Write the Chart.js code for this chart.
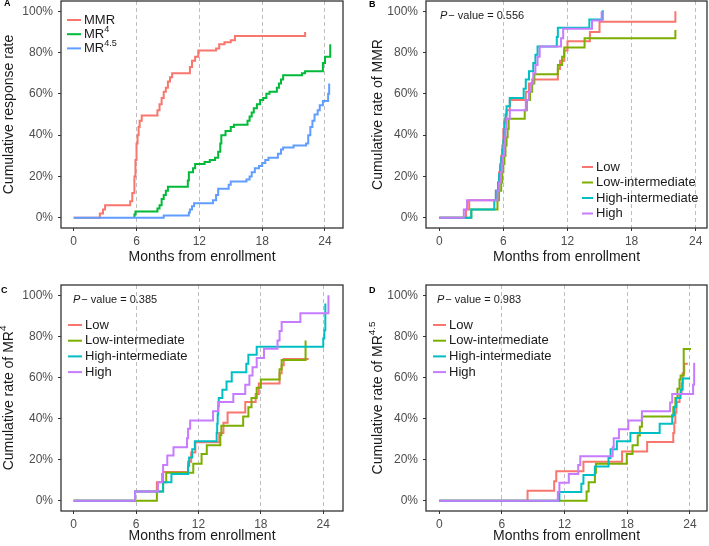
<!DOCTYPE html>
<html>
<head>
<meta charset="utf-8">
<script src="https://cdn.jsdelivr.net/npm/chart.js@4"></script>
<style>
  html, body { margin: 0; padding: 0; background: #fff; }
  #wrap { position: relative; width: 709px; height: 546px; overflow: hidden; }
  canvas { position: absolute; }
</style>
</head>
<body>
<div id="wrap">
  <canvas id="panelA" width="354" height="273" style="left:0;top:0"></canvas>
  <canvas id="panelB" width="355" height="273" style="left:354px;top:0"></canvas>
  <canvas id="panelC" width="354" height="273" style="left:0;top:273px"></canvas>
  <canvas id="panelD" width="355" height="273" style="left:354px;top:273px"></canvas>
</div>
<script>
const monthTicks = [0, 6, 12, 18, 24];
const pctTicks = [0, 20, 40, 60, 80, 100];
const responseColors = ['#F8766D', '#00BA38', '#619CFF'];
const groupNames = ['Low', 'Low-intermediate', 'High-intermediate', 'High'];
const groupColors = ['#F8766D', '#7CAE00', '#00BFC4', '#C77CFF'];
const pValues = ['0.556', '0.385', '0.983'];

// [month, cumulative %] step points
// A: overall response
const aMMR = [[0,0],[2.5,2],[2.8,4],[3.0,6],[5.4,8],[5.6,12],[5.8,20],[5.9,28],[6.0,36],[6.1,40],[6.2,44],[6.3,47],[6.5,49.5],[8.0,52],[8.2,55],[8.4,58],[8.6,61],[8.8,63],[9.0,66],[9.2,68],[9.4,70],[11.1,73],[11.3,76],[11.6,78],[11.9,81],[13.6,82],[13.9,84],[14.4,85],[15.0,86],[15.4,88],[22.1,89.5],[22.2,89.5]];
const aMR4 = [[5.8,0],[5.8,1.5],[5.9,3],[8.0,4.5],[8.2,6],[8.4,9],[8.6,11],[8.8,13],[9.0,15],[10.9,18],[11.0,22],[11.4,24],[11.6,26],[12.5,27],[13.0,28],[13.5,29],[13.8,32],[14.0,36],[14.1,40],[14.5,42],[15.0,44],[15.3,45],[16.6,47],[16.8,49],[17.0,51],[17.2,53],[17.5,55],[17.8,57],[18.1,58],[18.4,60],[18.7,61],[19.4,63],[19.6,65],[19.8,67],[20.0,69],[21.8,70],[22.1,71],[23.8,75],[24.0,78],[24.5,84],[24.5,84]];
const aMR45 = [[0,0],[8.6,1],[11.0,2.5],[11.1,4],[11.3,5.5],[11.5,7],[13.3,8.5],[13.6,11],[13.8,14],[14.8,16],[15.0,17.5],[16.5,18.5],[16.8,20],[17.0,22],[17.3,24],[17.7,25],[18.0,26.5],[18.3,28],[18.6,29],[19.5,31],[19.8,33],[20.0,34],[21.0,35],[22.2,36],[22.4,40],[22.6,44],[22.8,47],[23.0,50],[23.3,52],[23.5,54.5],[23.8,56.5],[24.3,60],[24.4,65],[24.4,65]];

// B: MMR by group
const bLow = [[0,0],[2.5,4],[2.8,8.5],[5.3,13],[5.5,17],[5.6,22],[5.7,26],[5.8,30],[5.9,35],[6.0,43],[6.1,48],[6.3,52],[6.6,57],[8.1,61],[8.4,65],[8.7,67],[11.1,72],[11.3,76],[11.7,81],[12.0,85.5],[14.1,90],[15.0,95],[22.1,100],[22.1,100]];
const bLowInt = [[0,0],[3.0,4],[5.45,8.5],[5.6,13],[5.8,17],[5.9,22],[6.0,26],[6.1,30],[6.2,35],[6.3,39],[6.4,43],[6.5,48],[8.0,52],[8.2,57],[8.5,61],[8.7,65],[8.9,69.5],[11.1,74],[11.5,78],[11.7,82.5],[13.6,87],[22.1,91],[22.1,91]];
const bHighInt = [[0,0],[3.0,4],[5.15,8.5],[5.3,13],[5.5,17],[5.6,21],[5.7,25],[5.8,29],[5.9,33],[6.0,37.5],[6.05,42],[6.1,46],[6.2,50],[6.3,54],[6.6,58],[7.9,62.5],[8.1,67],[8.4,71],[8.8,75],[9.0,79],[9.2,83],[11.0,87.5],[11.1,92],[14.05,96],[15.3,100],[15.4,100]];
const bHigh = [[0,0],[2.3,4],[2.6,8.5],[5.45,13],[5.6,17],[5.75,22],[5.85,26],[5.95,30],[6.05,35],[6.15,39],[6.2,43],[6.3,48],[6.6,52],[8.1,57],[8.4,61],[8.6,65],[8.8,70],[9.0,74],[9.2,78],[9.4,83],[11.4,87],[11.6,91.5],[14.3,95.6],[15.2,100],[15.2,100]];

// C: MR4 by group
const cLow = [[0,0],[5.9,4.5],[8.0,9],[8.6,14],[11.0,19],[11.3,23.5],[11.7,28.5],[14.0,33],[14.4,38],[14.8,43],[16.5,48],[17.5,52],[17.8,57],[19.8,62],[20.0,66],[20.2,69],[22.6,69]];
const cLowInt = [[0,0],[8.0,4.5],[8.6,9],[8.9,13.6],[11.5,18],[12.3,22.7],[12.8,27],[14.1,32],[14.2,36.5],[16.3,41],[16.8,45.5],[17.1,50],[17.6,55],[18.0,59],[19.8,64],[20.0,68.5],[22.3,78],[22.3,78]];
const cHighInt = [[0,0],[5.9,4.5],[8.6,9],[9.4,13],[11.0,17],[11.1,21],[11.4,25],[11.65,29],[13.75,33],[13.8,37.5],[13.85,42],[13.9,46],[13.95,50],[14.3,54],[14.7,58],[15.2,62.5],[16.6,66.7],[16.8,71],[17.6,75],[24.0,79],[24.1,83],[24.2,96],[24.2,96]];
const cHigh = [[0,0],[5.9,4.5],[8.1,9],[8.5,13],[8.6,17.4],[9.0,22],[9.6,26],[10.9,30.4],[11.0,35],[11.2,39],[13.4,43.5],[13.9,48],[15.35,52],[16.5,56.5],[16.9,61],[17.2,65],[17.6,69.5],[18.3,74],[19.6,78],[19.8,82.6],[20.0,87],[21.8,91.3],[24.5,100],[24.5,100]];

// D: MR4.5 by group
const dLow = [[0,0],[8.45,4.8],[11.0,9.5],[11.2,14.3],[13.8,19],[17.5,24],[19.9,28.6],[22.4,33],[22.5,38],[22.6,43],[22.7,48],[23.0,52],[23.2,57],[23.3,62],[23.45,66.7],[23.8,66.7]];
const dLowInt = [[0,0],[14.1,4.5],[14.3,9],[14.9,13.6],[15.0,18],[17.95,22.7],[18.5,27],[19.0,31.8],[19.2,36],[19.4,41],[22.4,45.5],[22.6,50],[22.8,54.5],[23.0,59],[23.1,61],[23.4,73.8],[24.1,73.8]];
const dHighInt = [[0,0],[11.5,4.2],[13.6,8.3],[13.8,12.5],[14.9,16.7],[16.2,20.8],[16.4,25],[17.0,29],[18.3,33],[21.1,37.5],[22.3,41.7],[22.5,45.8],[22.7,50],[23.1,54],[23.3,59.5],[24.0,59.5]];
const dHigh = [[0,0],[11.35,4.3],[11.5,8.7],[12.4,13],[13.3,17.4],[13.5,21.7],[16.6,26],[16.7,30.4],[17.2,34.8],[18.1,39],[19.4,43.5],[22.1,47.8],[22.3,52],[24.3,56.5],[24.4,66.7],[24.5,66.7]];

const FONT = '"Liberation Sans", Arial, Helvetica, sans-serif';
Chart.defaults.font.family = FONT;

function fontStr(size, style) {
  return (style || '') + ' ' + size + 'px ' + FONT;
}

// draws text pieces, superscripts where the flag is set
function drawRich(ctx, parts, x, y, size, align) {
  const widths = parts.map(p => {
    ctx.font = fontStr(p[1] ? size * 0.7 : size);
    return ctx.measureText(p[0]).width;
  });
  const total = widths.reduce((a, b) => a + b, 0);
  let cx = align === 'center' ? x - total / 2 : x;
  parts.forEach((p, i) => {
    ctx.font = fontStr(p[1] ? size * 0.7 : size);
    ctx.fillText(p[0], cx, p[1] ? y - size * 0.4 : y);
    cx += widths[i];
  });
}

const panelDecor = {
  id: 'panelDecor',
  afterDatasetsDraw(chart, args, o) {
    const ctx = chart.ctx;
    const a = chart.chartArea;
    ctx.save();
    // panel box
    ctx.strokeStyle = '#333';
    ctx.lineWidth = 1.3;
    ctx.strokeRect(a.left, a.top, a.right - a.left, a.bottom - a.top);

    ctx.fillStyle = '#1a1a1a';
    ctx.textBaseline = 'middle';
    // y title
    ctx.save();
    ctx.translate(o.yTitleX, (a.top + a.bottom) / 2);
    ctx.rotate(-Math.PI / 2);
    drawRich(ctx, o.yTitle, 0, 0, 14, 'center');
    ctx.restore();

    // panel letter
    ctx.textBaseline = 'alphabetic';
    ctx.font = fontStr(9, 'bold');
    ctx.fillStyle = '#000';
    ctx.fillText(o.letter, o.letterX, o.letterY);

    // p-value
    ctx.textBaseline = 'middle';
    ctx.fillStyle = '#1a1a1a';
    if (o.pValue) {
      ctx.font = fontStr(11, 'italic');
      ctx.fillText('P', o.pX, o.pY);
      const w = ctx.measureText('P').width;
      ctx.font = fontStr(11);
      ctx.fillText('\u2212 value = ' + o.pValue, o.pX + w + 1, o.pY);
    }

    // legend
    o.legend.forEach((item, i) => {
      const y = o.legY + i * o.legStep;
      ctx.strokeStyle = item.color;
      ctx.lineWidth = 2;
      ctx.beginPath();
      ctx.moveTo(o.legX, y);
      ctx.lineTo(o.legX + o.legLen, y);
      ctx.stroke();
      ctx.fillStyle = '#1a1a1a';
      drawRich(ctx, item.parts, o.legX + o.legLen + 3, y, 13, 'left');
    });
    ctx.restore();
  }
};

function noPad(s) {
  s.paddingTop = 0;
  s.paddingBottom = 0;
  s.paddingLeft = 0;
  s.paddingRight = 0;
}

function makePanel(id, cfg) {
  const canvas = document.getElementById(id);
  const W = canvas.width, H = canvas.height;
  const n = cfg.series.length;
  new Chart(canvas, {
    type: 'line',
    data: {
      datasets: cfg.series.map((s, i) => ({
        label: cfg.labels[i],
        data: s.map(p => ({ x: p[0], y: p[1] })),
        borderColor: cfg.colors[i],
        borderWidth: 2,
        stepped: true,
        pointRadius: 0,
        fill: false,
        order: n - 1 - i
      }))
    },
    options: {
      responsive: false,
      animation: false,
      events: [],
      layout: { padding: { left: 0, top: cfg.top, right: W - cfg.right, bottom: 0 } },
      plugins: {
        legend: { display: false },
        tooltip: { enabled: false },
        panelDecor: cfg.decor
      },
      scales: {
        x: {
          type: 'linear',
          min: cfg.xMin,
          max: cfg.xMax,
          afterBuildTicks: s => { s.ticks = monthTicks.map(v => ({ value: v })); },
          afterFit: s => { s.height = H - cfg.bottom; noPad(s); },
          border: { display: false, dash: [4, 3] },
          grid: {
            color: c => (c.tick && c.tick.value === 0) ? 'rgba(0,0,0,0)' : '#bdbdbd',
            lineWidth: 1,
            tickLength: 3,
            tickColor: '#333',
            tickWidth: 1
          },
          ticks: { font: { size: 12 }, color: '#4d4d4d', padding: 3, maxRotation: 0 },
          title: {
            display: true,
            text: 'Months from enrollment',
            font: { size: 14, lineHeight: 1 },
            color: '#1a1a1a',
            padding: { top: 0, bottom: cfg.xTitlePad }
          }
        },
        y: {
          min: -5,
          max: 105,
          afterBuildTicks: s => { s.ticks = pctTicks.map(v => ({ value: v })); },
          afterFit: s => { s.width = cfg.left; noPad(s); },
          border: { display: false },
          grid: { drawOnChartArea: false, tickLength: 3, tickColor: '#333', tickWidth: 1 },
          ticks: { font: { size: 12 }, color: '#4d4d4d', padding: 5, callback: v => v + '%' }
        }
      }
    },
    plugins: [panelDecor]
  });
}

function groupLegend() {
  return groupNames.map((g, i) => ({ parts: [[g]], color: groupColors[i] }));
}

makePanel('panelA', {
  series: [aMMR, aMR4, aMR45],
  labels: ['MMR', 'MR4', 'MR4.5'],
  colors: responseColors,
  left: 61, right: 343, top: 1, bottom: 228,
  xMin: -1.21, xMax: 25.72, xTitlePad: 9,
  decor: {
    yTitle: [['Cumulative response rate']], yTitleX: 9,
    letter: 'A', letterX: 4, letterY: 6,
    legend: [
      { parts: [['MMR']], color: responseColors[0] },
      { parts: [['MR'], ['4', true]], color: responseColors[1] },
      { parts: [['MR'], ['4.5', true]], color: responseColors[2] }
    ],
    legX: 67, legY: 20, legStep: 14.2, legLen: 14
  }
});

makePanel('panelB', {
  series: [bLow, bLowInt, bHighInt, bHigh],
  labels: groupNames,
  colors: groupColors,
  left: 72, right: 353, top: 1, bottom: 228,
  xMin: -1.24, xMax: 25.06, xTitlePad: 9,
  decor: {
    yTitle: [['Cumulative rate of MMR']], yTitleX: 24,
    letter: 'B', letterX: 15, letterY: 7,
    pValue: pValues[0], pX: 86, pY: 16,
    legend: groupLegend(),
    legX: 228, legY: 167, legStep: 15.5, legLen: 11
  }
});

makePanel('panelC', {
  series: [cLow, cLowInt, cHighInt, cHigh],
  labels: groupNames,
  colors: groupColors,
  left: 61, right: 343, top: 12, bottom: 238,
  xMin: -1.22, xMax: 25.9, xTitlePad: 3,
  decor: {
    yTitle: [['Cumulative rate of MR'], ['4', true]], yTitleX: 9,
    letter: 'C', letterX: 1, letterY: 20,
    pValue: pValues[1], pX: 73, pY: 27,
    legend: groupLegend(),
    legX: 68, legY: 52, legStep: 15.7, legLen: 14
  }
});

makePanel('panelD', {
  series: [dLow, dLowInt, dHighInt, dHigh],
  labels: groupNames,
  colors: groupColors,
  left: 72, right: 353, top: 12, bottom: 238,
  xMin: -1.27, xMax: 25.63, xTitlePad: 3,
  decor: {
    yTitle: [['Cumulative rate of MR'], ['4.5', true]], yTitleX: 24,
    letter: 'D', letterX: 15, letterY: 20,
    pValue: pValues[2], pX: 83, pY: 27,
    legend: groupLegend(),
    legX: 79, legY: 52, legStep: 15.7, legLen: 13
  }
});
</script>
</body>
</html>
